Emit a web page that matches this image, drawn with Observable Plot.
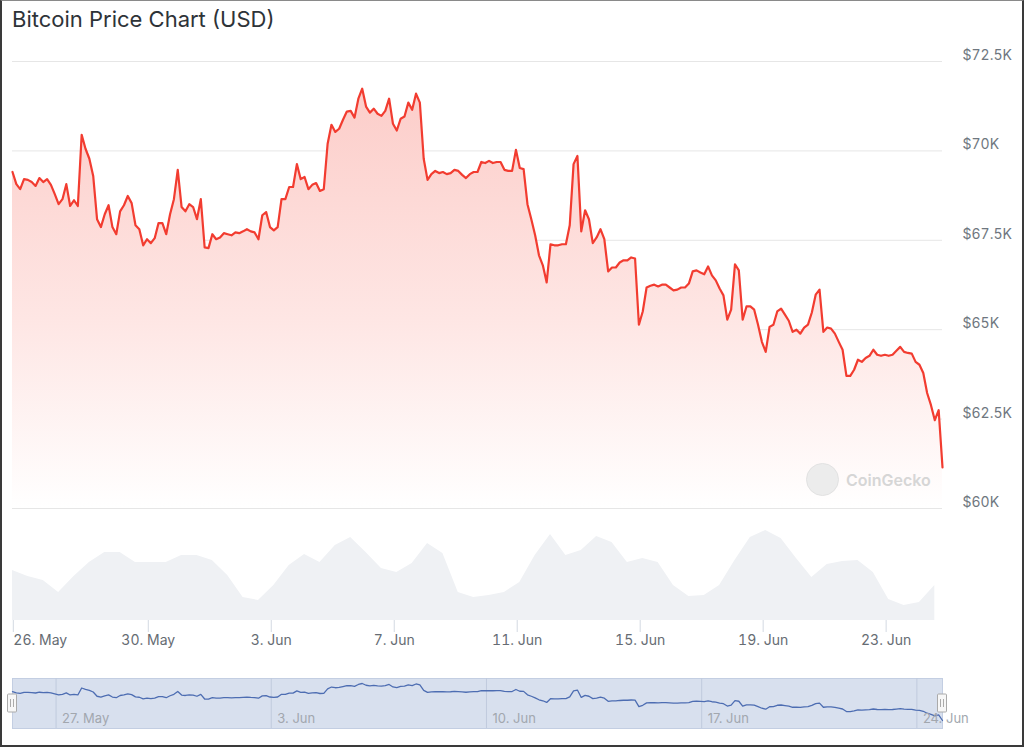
<!DOCTYPE html>
<html>
<head>
<meta charset="utf-8">
<script src="https://cdn.jsdelivr.net/npm/d3@7"></script>
<script src="https://cdn.jsdelivr.net/npm/@observablehq/plot@0.6"></script>
<style>
  html, body { margin: 0; padding: 0; background: #fff; }
  #wrap { position: relative; width: 1024px; height: 747px; overflow: hidden; font-family: Inter, "Noto Sans", sans-serif; }
  .layer { position: absolute; left: 0; }
  #title { position: absolute; left: 12px; top: 6px; font-size: 22px; color: #2e3338; }
  #wm { position: absolute; left: 806px; top: 463px; display: flex; align-items: center; gap: 7px; }
  #wm .logo { width: 33px; height: 33px; border-radius: 50%; background: #ececec; border: 1px solid #e2e2e2; box-sizing: border-box; }
  #wm .txt { font-size: 16px; font-weight: 600; color: #d6d6d6; }
  #border { position: absolute; left: 0; top: 0; width: 1024px; height: 747px; box-sizing: border-box;
            border: 2px solid #3a3a3a; border-top: 1px solid #8a8a8a; pointer-events: none; }
</style>
</head>
<body>
<div id="wrap">
  <div id="title">Bitcoin Price Chart (USD)</div>
  <div id="price" class="layer" style="top:0"></div>
  <div id="volume" class="layer" style="top:520px"></div>
  <div id="nav" class="layer" style="top:678px"></div>
  <div id="wm"><div class="logo"></div><div class="txt">CoinGecko</div></div>
  <div id="border"></div>
</div>
<script>
// ---- data ----
const startTime = "2024-05-25T14:00:00Z";
const priceStepHours = 3;
const prices = [
 69410,69070,68930,69210,69190,69130,69020,69240,69130,69210,
 69050,68790,68510,68650,69070,68460,68620,68460,70450,70060,
 69780,69300,68090,67870,68230,68480,67870,67670,68310,68480,
 68740,68540,67920,67810,67360,67530,67420,67560,67980,67980,
 67670,68230,68650,69470,68430,68310,68510,68430,68090,68650,
 67300,67280,67670,67530,67580,67700,67670,67640,67720,67700,
 67750,67810,67750,67720,67530,68200,68290,67870,67780,67870,
 68650,68650,68990,68990,69630,69210,69270,68930,69050,69100,
 68880,68930,70200,70730,70530,70620,70870,71100,71120,70930,
 71460,71740,71240,71070,71180,71040,70980,71120,71460,70760,
 70570,70900,70960,71350,71150,71600,71350,69780,69190,69350,
 69440,69380,69410,69350,69380,69470,69440,69330,69240,69350,
 69410,69410,69690,69660,69720,69660,69690,69690,69470,69440,
 69440,70030,69520,69490,68510,68090,67640,67080,66800,66320,
 67390,67360,67360,67390,67390,67920,69630,69860,67750,68340,
 68090,67420,67580,67810,67530,66630,66740,66740,66880,66940,
 66940,67020,66990,65140,65510,66180,66230,66260,66210,66260,
 66260,66180,66100,66120,66180,66180,66290,66630,66660,66600,
 66550,66770,66520,66380,66150,65960,65280,65560,66830,66660,
 65280,65650,65650,65560,65140,64660,64380,65080,65140,65510,
 65590,65420,65250,64940,65000,64890,65060,65140,65480,65980,
 66120,64940,65060,65030,64890,64660,64440,63710,63710,63880,
 64160,64100,64210,64270,64440,64300,64270,64300,64270,64300,
 64410,64520,64380,64350,64330,64100,64020,63790,63230,62890,
 62470,62750,61150
];
const volumeStepHours = 12;
const volumes = [ // billions USD (relative)
 25,22,20,14,22,29,34,34,29,29,
 29,32.5,32.5,30,22.5,11.5,10,17.5,27.5,33,
 29,37.5,41.5,34,26,24,28.5,38.5,33.5,14,
 11.5,12.5,14,19,32.5,43,32.5,35,42,39,
 29,31,29,17.5,12,12.5,17.5,30,41.5,45,
 41,31,21.5,28,29.5,30,24,10.5,7.5,9,
 17.5
];
const yTickValues = [60000, 62500, 65000, 67500, 70000, 72500];
const mainTickDates = ["2024-05-26","2024-05-30","2024-06-03","2024-06-07","2024-06-11","2024-06-15","2024-06-19","2024-06-23"];
const navTickDates = ["2024-05-27","2024-06-03","2024-06-10","2024-06-17","2024-06-24"];

// ---- build tables ----
const t0 = new Date(startTime);
const HOUR = 3600 * 1000;
const priceData = prices.map((p, i) => ({date: new Date(+t0 + i * priceStepHours * HOUR), price: p}));
const volumeData = volumes.map((v, i) => ({date: new Date(+t0 + i * volumeStepHours * HOUR), volume: v}));
const tEnd = priceData[priceData.length - 1].date;
const mainTicks = mainTickDates.map(d => new Date(d + "T00:00:00Z"));
const navTicks = navTickDates.map(d => new Date(d + "T00:00:00Z"));
const fmtDate = d3.utcFormat("%-d. %b");
const fmtPrice = d => "$" + (d / 1000) + "K";

const FONT = "Inter, 'Noto Sans', sans-serif";
const baseStyle = {fontFamily: FONT, background: "transparent", overflow: "visible"};

const gradientDefs = () => {
  const ns = "http://www.w3.org/2000/svg";
  const defs = document.createElementNS(ns, "defs");
  defs.innerHTML = '<linearGradient id="priceGrad" x1="0" y1="0" x2="0" y2="1">' +
    '<stop offset="0" stop-color="#fccdc9"/>' +
    '<stop offset="0.55" stop-color="#fee6e4"/>' +
    '<stop offset="1" stop-color="#ffffff"/></linearGradient>';
  return defs;
};

// ---- price pane ----
const pricePlot = Plot.plot({
  width: 1024, height: 520,
  marginLeft: 12, marginRight: 82, marginTop: 61, marginBottom: 12,
  style: baseStyle,
  x: {type: "utc", domain: [t0, tEnd], axis: null},
  y: {domain: [60000, 72500], axis: null},
  marks: [
    gradientDefs,
    Plot.gridY(yTickValues, {stroke: "#e6e6e6", strokeOpacity: 1}),
    Plot.areaY(priceData, {x: "date", y1: 60000, y2: "price", fill: "url(#priceGrad)"}),
    Plot.lineY(priceData, {x: "date", y: "price", stroke: "#f23c30", strokeWidth: 2.2, strokeLinejoin: "round"}),
    Plot.axisY(yTickValues, {anchor: "right", tickSize: 0, tickPadding: 20, dy: -6, fontSize: 14,
      fill: "#6f7780", tickFormat: fmtPrice, label: null})
  ]
});
document.getElementById("price").appendChild(pricePlot);

// ---- volume pane with date axis ----
const axisStyle = {tickSize: 12, tickPadding: 3, stroke: "#d3d9e2", fill: "#666c73", fontSize: 14, tickFormat: fmtDate, label: null};
const volumePlot = Plot.plot({
  width: 1024, height: 140,
  marginLeft: 12, marginRight: 82, marginTop: 10, marginBottom: 40,
  style: baseStyle,
  x: {type: "utc", domain: [t0, tEnd]},
  y: {domain: [0, 45], axis: null},
  marks: [
    Plot.areaY(volumeData, {x: "date", y: "volume", fill: "#eff1f4"}),
    Plot.axisX(mainTicks.slice(1), axisStyle),
    Plot.axisX(mainTicks.slice(0, 1), {...axisStyle, textAnchor: "start", dx: -12})
  ]
});
document.getElementById("volume").appendChild(volumePlot);

// ---- navigator ----
const handles = (index, scales, values, dims) => {
  const g = d3.create("svg:g");
  const cy = dims.marginTop + (dims.height - dims.marginTop - dims.marginBottom) / 2;
  for (const t of [t0, tEnd]) {
    const cx = scales.x(t);
    g.append("rect").attr("x", cx - 4.5).attr("y", cy - 9).attr("width", 9).attr("height", 18)
      .attr("fill", "#f7f7f7").attr("stroke", "#aaaaaa").attr("stroke-width", 1).attr("rx", 1);
    for (const dx of [-1.5, 1.5]) {
      g.append("line").attr("x1", cx + dx).attr("x2", cx + dx).attr("y1", cy - 4).attr("y2", cy + 4)
        .attr("stroke", "#aaaaaa").attr("stroke-width", 1);
    }
  }
  return g.node();
};
const navPlot = Plot.plot({
  width: 1024, height: 50,
  marginLeft: 12, marginRight: 82, marginTop: 0, marginBottom: 0,
  style: baseStyle,
  x: {type: "utc", domain: [t0, tEnd], axis: null},
  y: {domain: d3.extent(prices), insetTop: 5, insetBottom: 8, axis: null},
  marks: [
    Plot.frame({fill: "#d8e0ee", stroke: "#c3cee2"}),
    Plot.ruleX(navTicks, {stroke: "#c0cadd", strokeWidth: 1}),
    Plot.lineY(priceData, {x: "date", y: "price", stroke: "#4d6db2", strokeWidth: 1.3}),
    Plot.text(navTicks, {x: d => d, text: d => fmtDate(d), frameAnchor: "bottom", lineAnchor: "middle",
      textAnchor: "start", dx: 6, dy: -10, fill: "#a2a7ae", fontSize: 13}),
    handles
  ]
});
document.getElementById("nav").appendChild(navPlot);
</script>
</body>
</html>
